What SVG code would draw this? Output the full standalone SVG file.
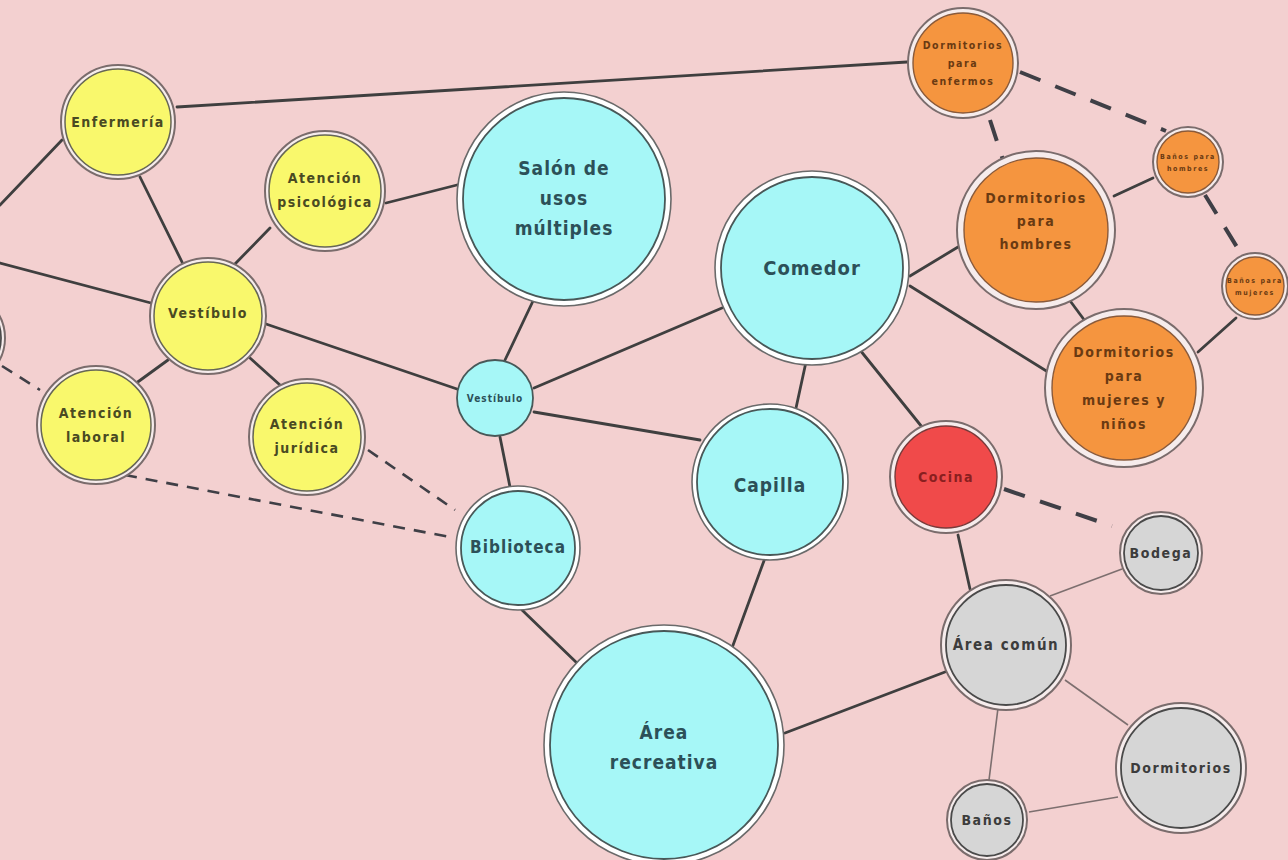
<svg xmlns="http://www.w3.org/2000/svg" width="1288" height="860" viewBox="0 0 1288 860">
<style>
.bg{fill:#f3d0d0}
.c{stroke:#3f3f3f;stroke-width:2.8;fill:none;stroke-linecap:round}
.t{stroke:#7d6f6f;stroke-width:1.6;fill:none}
.d{stroke:#3f3f46;stroke-width:4;fill:none;stroke-dasharray:22 16}
.dt{stroke:#3f3f46;stroke-width:2.6;fill:none;stroke-dasharray:12 9}
.ring{fill:#f6ecec;stroke:#7a6c6c;stroke-width:2}
.ringw{fill:#ffffff;stroke:#6a6a6a;stroke-width:1.6}
.y{fill:#f9f86c;stroke:#666655;stroke-width:1.5}
.cy{fill:#a6f7f7;stroke:#485858;stroke-width:1.8}
.o{fill:#f5953f;stroke:#8a5a3a;stroke-width:1.4}
.r{fill:#f04a4a;stroke:#7a3a3a;stroke-width:1.4}
.g{fill:#d6d6d6;stroke:#4a4a4a;stroke-width:1.8}
text{font-family:"DejaVu Sans Condensed","DejaVu Sans",sans-serif;font-weight:bold;text-anchor:middle;letter-spacing:1px}
.ty{fill:#4a4a22;letter-spacing:1.5px}
.tc{fill:#2c5058}
.to{fill:#6a3a12;letter-spacing:1.6px}
.tr{fill:#8a1f1f;letter-spacing:1.5px}
.tg{fill:#3c3c3c;letter-spacing:1.6px}
</style>
<rect class="bg" x="0" y="0" width="1288" height="860"/>
<g id="connectors">
<line class="c" x1="0" y1="205" x2="62" y2="140"/>
<line class="c" x1="0" y1="263" x2="151" y2="303"/>
<line class="c" x1="177" y1="107" x2="907" y2="62"/>
<line class="c" x1="140" y1="177" x2="183" y2="264"/>
<line class="c" x1="270" y1="228" x2="234" y2="265"/>
<line class="c" x1="386" y1="203" x2="457" y2="185"/>
<line class="c" x1="168" y1="360" x2="135" y2="384"/>
<line class="c" x1="250" y1="358" x2="280" y2="385"/>
<line class="c" x1="266" y1="324" x2="457" y2="389"/>
<line class="c" x1="533" y1="301" x2="505" y2="360"/>
<line class="c" x1="534" y1="388" x2="722" y2="308"/>
<line class="c" x1="534" y1="412" x2="700" y2="440"/>
<line class="c" x1="500" y1="437" x2="510" y2="487"/>
<line class="c" x1="522" y1="610" x2="578" y2="664"/>
<line class="c" x1="765" y1="558" x2="732" y2="648"/>
<line class="c" x1="806" y1="362" x2="796" y2="408"/>
<line class="c" x1="860" y1="350" x2="922" y2="427"/>
<line class="c" x1="910" y1="276" x2="958" y2="247"/>
<line class="c" x1="910" y1="286" x2="1048" y2="372"/>
<line class="c" x1="1068" y1="298" x2="1085" y2="321"/>
<line class="c" x1="1114" y1="196" x2="1153" y2="178"/>
<line class="c" x1="1198" y1="352" x2="1236" y2="318"/>
<line class="c" x1="958" y1="535" x2="970" y2="589"/>
<line class="c" x1="785" y1="733" x2="945" y2="672"/>
<line class="t" x1="1050" y1="596" x2="1122" y2="569"/>
<line class="t" x1="1065" y1="680" x2="1128" y2="725"/>
<line class="t" x1="998" y1="708" x2="989" y2="780"/>
<line class="t" x1="1029" y1="812" x2="1118" y2="797"/>
<line class="d" x1="1020" y1="72" x2="1166" y2="131"/>
<line class="d" x1="990" y1="120" x2="1003" y2="160"/>
<line class="d" x1="1205" y1="195" x2="1240" y2="252"/>
<line class="d" x1="1004" y1="489" x2="1112" y2="526"/>
<line class="dt" x1="368" y1="450" x2="455" y2="510"/>
<line class="dt" x1="125" y1="475" x2="455" y2="538"/>
<line class="dt" x1="2" y1="366" x2="40" y2="390"/>
</g>
<g id="n-partial"><circle class="ring" cx="-42" cy="338" r="47"/><circle class="g" cx="-42" cy="338" r="43"/></g>
<g id="n-enfermeria"><circle class="ring" cx="118" cy="122" r="57"/><circle class="y" cx="118" cy="122" r="53"/><text class="ty" x="118" y="127" font-size="14">Enfermería</text></g>
<g id="n-atencion-psicologica"><circle class="ring" cx="325" cy="191" r="60"/><circle class="y" cx="325" cy="191" r="56"/><text class="ty" font-size="14"><tspan x="325" y="183">Atención</tspan><tspan x="325" y="207">psicológica</tspan></text></g>
<g id="n-vestibulo-1"><circle class="ring" cx="208" cy="316" r="58"/><circle class="y" cx="208" cy="316" r="54"/><text class="ty" x="208" y="318" font-size="14">Vestíbulo</text></g>
<g id="n-atencion-laboral"><circle class="ring" cx="96" cy="425" r="59"/><circle class="y" cx="96" cy="425" r="55"/><text class="ty" font-size="14"><tspan x="96" y="418">Atención</tspan><tspan x="96" y="442">laboral</tspan></text></g>
<g id="n-atencion-juridica"><circle class="ring" cx="307" cy="437" r="58"/><circle class="y" cx="307" cy="437" r="54"/><text class="ty" font-size="14"><tspan x="307" y="429">Atención</tspan><tspan x="307" y="453">jurídica</tspan></text></g>
<g id="n-salon"><circle class="ringw" cx="564" cy="199" r="107"/><circle class="cy" cx="564" cy="199" r="101"/><text class="tc" font-size="19"><tspan x="564" y="175">Salón de</tspan><tspan x="564" y="205">usos</tspan><tspan x="564" y="235">múltiples</tspan></text></g>
<g id="n-vestibulo-2"><circle class="cy" cx="495" cy="398" r="38" stroke-width="3"/><text class="tc" x="495" y="402" font-size="10" letter-spacing="0.3">Vestíbulo</text></g>
<g id="n-comedor"><circle class="ringw" cx="812" cy="268" r="97"/><circle class="cy" cx="812" cy="268" r="91"/><text class="tc" x="812" y="275" font-size="20">Comedor</text></g>
<g id="n-capilla"><circle class="ringw" cx="770" cy="482" r="78"/><circle class="cy" cx="770" cy="482" r="73"/><text class="tc" x="770" y="492" font-size="19">Capilla</text></g>
<g id="n-biblioteca"><circle class="ringw" cx="518" cy="548" r="62"/><circle class="cy" cx="518" cy="548" r="57"/><text class="tc" x="518" y="553" font-size="17">Biblioteca</text></g>
<g id="n-area-recreativa"><circle class="ringw" cx="664" cy="745" r="120"/><circle class="cy" cx="664" cy="745" r="114"/><text class="tc" font-size="19"><tspan x="664" y="739">Área</tspan><tspan x="664" y="769">recreativa</tspan></text></g>
<g id="n-cocina"><circle class="ring" cx="946" cy="477" r="56"/><circle class="r" cx="946" cy="477" r="51"/><text class="tr" x="946" y="482" font-size="14">Cocina</text></g>
<g id="n-dorm-enfermos"><circle class="ring" cx="963" cy="63" r="55"/><circle class="o" cx="963" cy="63" r="50"/><text class="to" font-size="10.5" letter-spacing="1"><tspan x="963" y="49">Dormitorios</tspan><tspan x="963" y="67">para</tspan><tspan x="963" y="85">enfermos</tspan></text></g>
<g id="n-dorm-hombres"><circle class="ring" cx="1036" cy="230" r="79"/><circle class="o" cx="1036" cy="230" r="72"/><text class="to" font-size="14"><tspan x="1036" y="203">Dormitorios</tspan><tspan x="1036" y="226">para</tspan><tspan x="1036" y="249">hombres</tspan></text></g>
<g id="n-dorm-mujeres"><circle class="ring" cx="1124" cy="388" r="79"/><circle class="o" cx="1124" cy="388" r="72"/><text class="to" font-size="14"><tspan x="1124" y="357">Dormitorios</tspan><tspan x="1124" y="381">para</tspan><tspan x="1124" y="405">mujeres y</tspan><tspan x="1124" y="429">niños</tspan></text></g>
<g id="n-banos-hombres"><circle class="ring" cx="1188" cy="162" r="35"/><circle class="o" cx="1188" cy="162" r="31"/><text class="to" font-size="7" letter-spacing="0.2"><tspan x="1188" y="159">Baños para</tspan><tspan x="1188" y="171">hombres</tspan></text></g>
<g id="n-banos-mujeres"><circle class="ring" cx="1255" cy="286" r="33"/><circle class="o" cx="1255" cy="286" r="29"/><text class="to" font-size="7" letter-spacing="0.2"><tspan x="1255" y="283">Baños para</tspan><tspan x="1255" y="295">mujeres</tspan></text></g>
<g id="n-bodega"><circle class="ring" cx="1161" cy="553" r="41"/><circle class="g" cx="1161" cy="553" r="37"/><text class="tg" x="1161" y="558" font-size="14" letter-spacing="1">Bodega</text></g>
<g id="n-area-comun"><circle class="ring" cx="1006" cy="645" r="65"/><circle class="g" cx="1006" cy="645" r="60"/><text class="tg" x="1006" y="650" font-size="15" letter-spacing="1">Área  común</text></g>
<g id="n-dormitorios"><circle class="ring" cx="1181" cy="768" r="65"/><circle class="g" cx="1181" cy="768" r="60"/><text class="tg" x="1181" y="773" font-size="14">Dormitorios</text></g>
<g id="n-banos"><circle class="ring" cx="987" cy="820" r="40"/><circle class="g" cx="987" cy="820" r="36"/><text class="tg" x="987" y="825" font-size="14" letter-spacing="1">Baños</text></g>
</svg>
